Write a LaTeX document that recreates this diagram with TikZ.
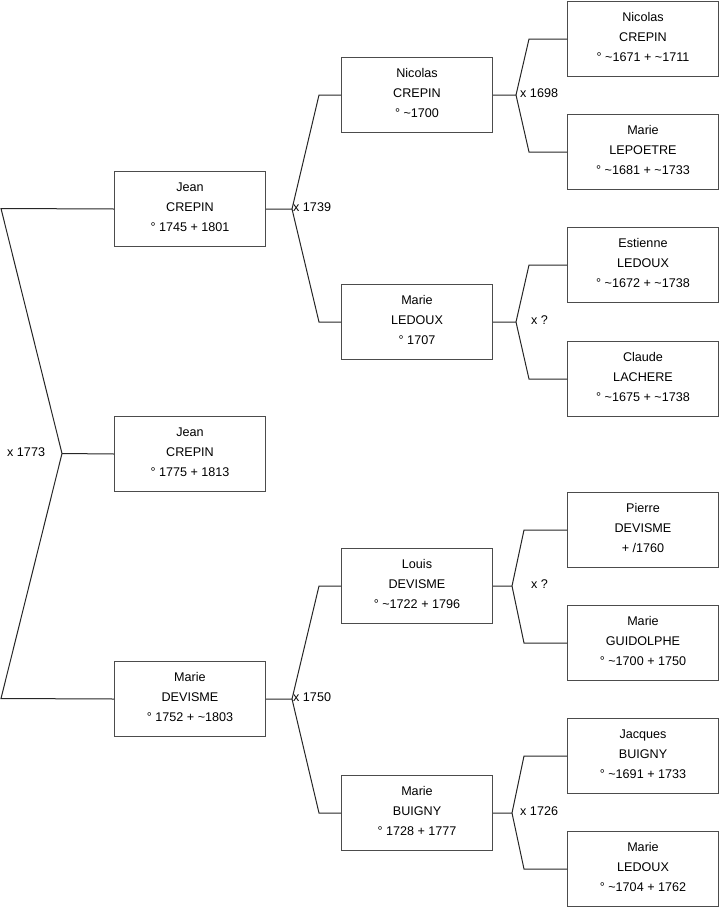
\documentclass[tikz,border=0pt]{standalone}
\usepackage{fontspec}
\setmainfont{Liberation Sans}
\begin{document}
\begin{tikzpicture}[x=1pt,y=-1pt,
  pbox/.style={draw=black!70,line width=1pt,fill=white,minimum width=151pt,minimum height=75pt,
    inner sep=0pt,align=center,anchor=north west,font=\fontsize{12.6}{20}\selectfont,
    execute at end node={\rule[-4pt]{0pt}{4pt}}},
  link/.style={draw=black!85,line width=1pt},
  mlab/.style={anchor=west,inner sep=0pt,font=\fontsize{12.6}{15}\selectfont}]
\useasboundingbox (0,0) rectangle (719,908);
% level 1
\node[pbox] (a) at (114,416) {Jean\\CREPIN\\° 1775 + 1813};
% level 2
\node[pbox] (b) at (114,171) {Jean\\CREPIN\\° 1745 + 1801};
\node[pbox] (c) at (114,661) {Marie\\DEVISME\\° 1752 + \textasciitilde1803};
% level 3
\node[pbox] (d) at (341,57) {Nicolas\\CREPIN\\° \textasciitilde1700};
\node[pbox] (e) at (341,284) {Marie\\LEDOUX\\° 1707};
\node[pbox] (f) at (341,548) {Louis\\DEVISME\\° \textasciitilde1722 + 1796};
\node[pbox] (g) at (341,775) {Marie\\BUIGNY\\° 1728 + 1777};
% level 4
\node[pbox] (h) at (567,1) {Nicolas\\CREPIN\\° \textasciitilde1671 + \textasciitilde1711};
\node[pbox] (i) at (567,114) {Marie\\LEPOETRE\\° \textasciitilde1681 + \textasciitilde1733};
\node[pbox] (j) at (567,227) {Estienne\\LEDOUX\\° \textasciitilde1672 + \textasciitilde1738};
\node[pbox] (k) at (567,341) {Claude\\LACHERE\\° \textasciitilde1675 + \textasciitilde1738};
\node[pbox] (l) at (567,492) {Pierre\\DEVISME\\+ /1760};
\node[pbox] (m) at (567,605) {Marie\\GUIDOLPHE\\° \textasciitilde1700 + 1750};
\node[pbox] (n) at (567,718) {Jacques\\BUIGNY\\° \textasciitilde1691 + 1733};
\node[pbox] (o) at (567,831) {Marie\\LEDOUX\\° \textasciitilde1704 + 1762};
% level 1 -> 2 connector
\coordinate (ta) at (1,208.5);
\coordinate (tb) at (1,698.5);
\coordinate (ap) at (62,453.5);
\draw[link] (b.west) -- (ta) -- (ap) -- (tb) -- (c.west);
\draw[link] (ap) -- (a.west);
\node[mlab] (la) at (7,452) {x 1773};
% level 2 -> 3
\draw[link] (b.east) -- ++(26,0) coordinate (kb) -- ([xshift=-22pt]d.west) -- (d.west);
\draw[link] (kb) -- ([xshift=-22pt]e.west) -- (e.west);
\node[mlab] (lb) at (293,207) {x 1739};
\draw[link] (c.east) -- ++(26,0) coordinate (kc) -- ([xshift=-22pt]f.west) -- (f.west);
\draw[link] (kc) -- ([xshift=-22pt]g.west) -- (g.west);
\node[mlab] (lc) at (293,697) {x 1750};
% level 3 -> 4
\draw[link] (d.east) -- ++(23,0) coordinate (kd) -- ([xshift=-38pt]h.west) -- (h.west);
\draw[link] (kd) -- ([xshift=-38pt]i.west) -- (i.west);
\node[mlab] (ld) at (520,93) {x 1698};
\draw[link] (e.east) -- ++(23,0) coordinate (ke) -- ([xshift=-38pt]j.west) -- (j.west);
\draw[link] (ke) -- ([xshift=-38pt]k.west) -- (k.west);
\node[mlab] (le) at (531,320) {x ?};
\draw[link] (f.east) -- ++(19,0) coordinate (kf) -- ([xshift=-43pt]l.west) -- (l.west);
\draw[link] (kf) -- ([xshift=-43pt]m.west) -- (m.west);
\node[mlab] (lf) at (531,584) {x ?};
\draw[link] (g.east) -- ++(19,0) coordinate (kg) -- ([xshift=-43pt]n.west) -- (n.west);
\draw[link] (kg) -- ([xshift=-43pt]o.west) -- (o.west);
\node[mlab] (lg) at (520,811) {x 1726};
\end{tikzpicture}
\end{document}
